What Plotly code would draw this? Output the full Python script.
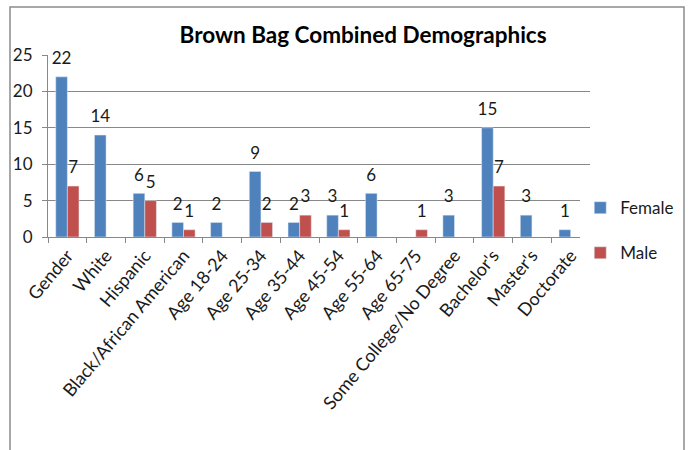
import plotly.graph_objects as go

categories = ["Gender", "White", "Hispanic", "Black/African American", "Age 18-24",
              "Age 25-34", "Age 35-44", "Age 45-54", "Age 55-64", "Age 65-75",
              "Some College/No Degree", "Bachelor's", "Master's", "Doctorate"]
female = [22, 14, 6, 2, 2, 9, 2, 3, 6, None, 3, 15, 3, 1]
male = [7, None, 5, 1, None, 2, 3, 1, None, 1, None, 7, None, None]

FONT = "Lato"
TXT = "#1a1a1a"
series = [("Female", female, "#4F81BD"), ("Male", male, "#C0504D")]

fig = go.Figure()
for name, vals, color in series:
    fig.add_trace(go.Bar(
        x=categories, y=vals, name=name, marker_color=color,
        offsetgroup=name, legendgroup=name,
    ))
# value labels, lifted above each bar by an invisible marker
for name, vals, color in series:
    fig.add_trace(go.Scatter(
        x=categories, y=vals, mode="markers+text", offsetgroup=name,
        text=["" if v is None else str(v) for v in vals],
        textposition="top center", cliponaxis=False,
        marker=dict(size=12, color="rgba(0,0,0,0)"),
        textfont=dict(family=FONT, size=17, color=TXT),
        showlegend=False, hoverinfo="skip",
    ))

fig.update_layout(
    width=689, height=450,
    margin=dict(l=48, r=99, t=55, b=213, autoexpand=False),
    paper_bgcolor="white", plot_bgcolor="white",
    barmode="group", bargap=0.4, bargroupgap=0,
    scattermode="group", scattergap=0.4,
    font=dict(family=FONT, size=16, color=TXT),
    title=dict(text="<b>Brown Bag Combined Demographics</b>",
               x=0.527, xanchor="center", y=1 - 35 / 450, yanchor="middle",
               font=dict(family=FONT, size=22.5, color="black")),
    legend=dict(x=0.982, xanchor="left", y=0.035, yanchor="middle",
                font=dict(family=FONT, size=17, color=TXT),
                tracegroupgap=20, itemwidth=30),
)
fig.update_xaxes(
    tickangle=-50, tickson="boundaries", ticks="outside", ticklen=5,
    tickcolor="#888888", showline=True, linecolor="#888888",
    tickfont=dict(family=FONT, size=18, color=TXT), showgrid=False,
)
fig.update_yaxes(
    range=[0, 25], dtick=5, ticks="outside", ticklen=5, tickcolor="#888888",
    showline=True, linecolor="#888888", gridcolor="#888888", gridwidth=1,
    tickfont=dict(family=FONT, size=17, color=TXT), zeroline=False,
    ticklabelstandoff=6,
)

# outer frame around the whole chart area
fig.add_shape(type="rect", xref="paper", yref="paper",
              x0=(10 - 48) / 542, x1=(684 - 48) / 542,
              y0=(237 - 452) / 182, y1=(237 - 7) / 182,
              line=dict(color="#8c8c8c", width=1.5), layer="below")

fig.write_html("out.html")
